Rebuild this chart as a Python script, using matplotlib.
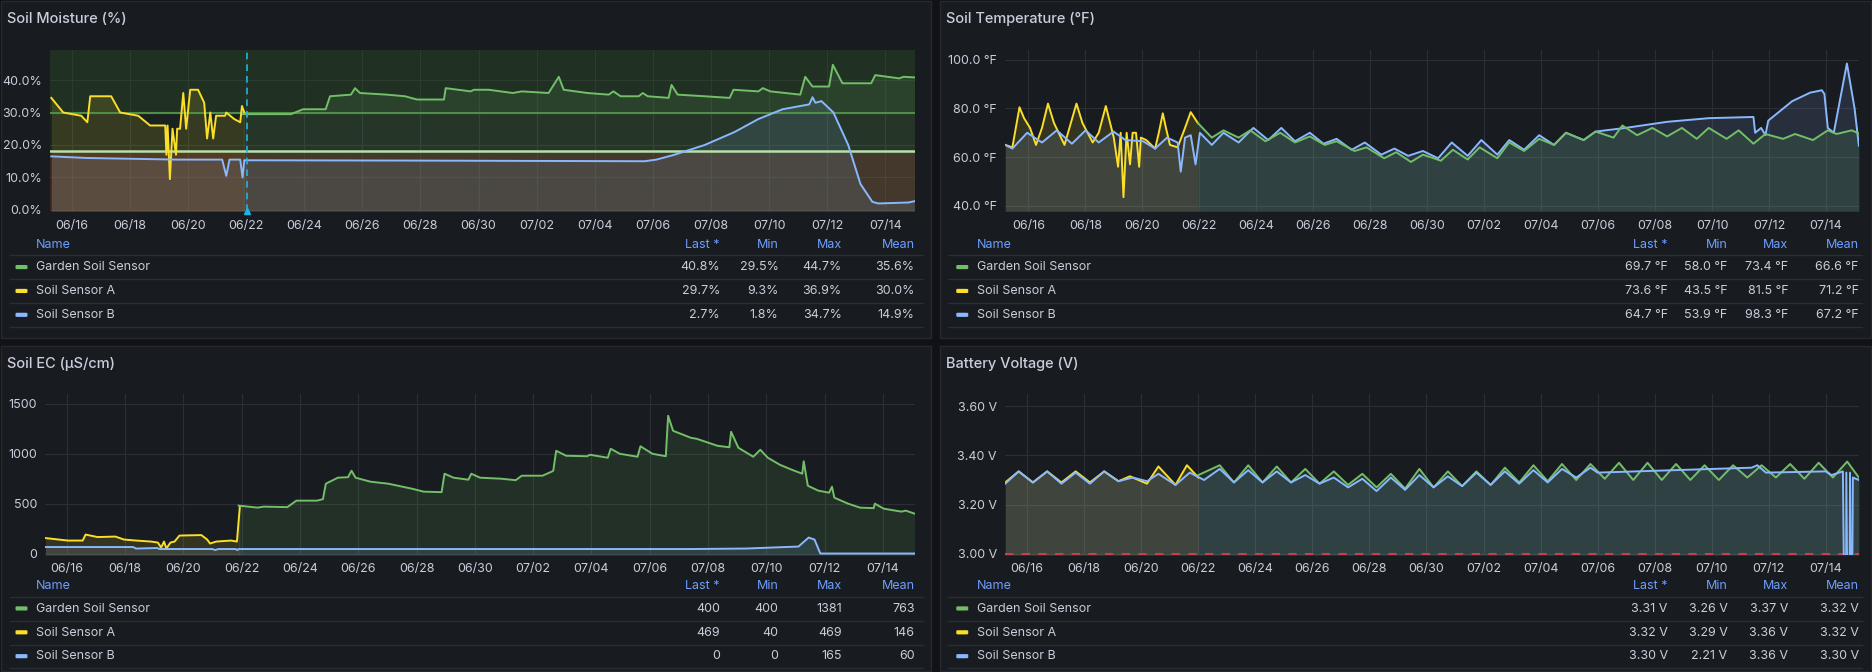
import matplotlib
matplotlib.use("Agg")
import matplotlib.pyplot as plt
from matplotlib.patches import Rectangle, FancyBboxPatch
from matplotlib.lines import Line2D
import numpy as np

plt.rcParams['font.family'] = ['Inter', 'DejaVu Sans']

GREEN, YELLOW, BLUE = '#73bf69', '#fade2a', '#8ab8ff'
PAGE, PANEL, GRID, TEXT, HEAD = '#111217', '#181b1f', '#2b2e34', '#ccccdc', '#6e9fff'

tick_days = [1, 3, 5, 7, 9, 11, 13, 15, 17, 19, 21, 23, 25, 27, 29]
tick_labels = ['06/16', '06/18', '06/20', '06/22', '06/24', '06/26', '06/28', '06/30',
               '07/02', '07/04', '07/06', '07/08', '07/10', '07/12', '07/14']
names = ['Garden Soil Sensor', 'Soil Sensor A', 'Soil Sensor B']
cols = ['Last *', 'Min', 'Max', 'Mean']

# ---------------- Soil moisture (%) ----------------
m_green_t = [6.9, 8.55, 8.96, 9.74, 9.89, 10.61, 10.75, 10.92, 11.85, 12.47, 12.88, 13.81, 13.87, 14.73, 14.84,
             15.35, 16.18, 16.49, 17.41, 17.76, 17.93, 18.75, 19.48, 19.64, 19.89, 20.51, 20.65, 20.82, 21.54,
             21.64, 21.85, 22.78, 23.64, 23.77, 24.63, 24.78, 25.04, 26.07, 26.24, 26.49, 27.06, 27.19, 27.52,
             28.51, 28.65, 29.48, 29.62, 30.0]
m_green_v = [29.5, 29.5, 31, 31, 35, 35.5, 37.5, 36, 35.5, 35, 34, 34, 37.5, 36.5, 37, 37, 36, 36.5, 36, 41, 37,
             36, 35.5, 36.5, 35, 35, 36, 35, 34.5, 38.5, 35.5, 35, 34.5, 37, 36.5, 37.5, 36.5, 35.5, 41, 38, 38,
             44.7, 39, 39, 41.5, 40.5, 41, 40.8]
m_yel_t = [0.3, 0.71, 1.33, 1.54, 1.64, 2.36, 2.67, 3.29, 3.7, 4.22, 4.26, 4.3, 4.38, 4.47, 4.59, 4.63, 4.73,
           4.84, 4.94, 5.08, 5.35, 5.56, 5.66, 5.77, 5.87, 5.97, 6.28, 6.32, 6.59, 6.8, 6.86, 6.94]
m_yel_v = [34.5, 30, 29, 27, 35, 35, 30, 29, 26, 26, 17, 26, 9.5, 25, 17, 25, 25, 36, 25, 37, 37, 33, 22, 30, 22,
           29, 29, 30, 28, 27, 32, 30]
m_blue_t = [0.3, 1.54, 2.78, 4.63, 6.18, 6.32, 6.43, 6.8, 6.88, 6.94, 12.88, 20.71, 21.12, 21.74, 22.78, 23.81,
            24.63, 25.46, 26.38, 26.49, 26.59, 26.8, 27.21, 27.72, 28.14, 28.55, 28.76, 29.79, 30.0]
m_blue_v = [16.5, 16, 15.8, 15.5, 15.5, 10.5, 15.5, 15.5, 10, 15.3, 15.2, 15, 15.5, 17, 20, 24, 28, 31, 32.5, 34.7,
            33, 33.5, 30, 20, 8, 2.5, 2, 2.3, 2.7]
m_table = [['40.8%', '29.5%', '44.7%', '35.6%'], ['29.7%', '9.3%', '36.9%', '30.0%'], ['2.7%', '1.8%', '34.7%', '14.9%']]

# ---------------- Soil temperature (°F) ----------------
t_yel_t = [0.19, 0.44, 0.69, 0.85, 1.06, 1.27, 1.48, 1.69, 1.9, 2.27, 2.69, 2.9, 3.26, 3.47, 3.72, 4.0, 4.15, 4.24,
           4.34, 4.45, 4.57, 4.66, 4.78, 4.89, 4.95, 5.14, 5.45, 5.58, 5.72, 5.83, 5.97, 6.24, 6.5, 6.7, 6.95]
t_yel_v = [65, 64, 80.5, 76, 72, 65, 72, 82, 74, 65, 82, 74, 66, 70, 81, 68, 56, 70, 43.5, 70, 57, 70, 70, 56, 68,
           67, 63.5, 70, 78, 72, 65, 64, 72, 78.5, 74]
t_blue_t = [0.19, 0.44, 0.96, 1.48, 2.0, 2.53, 3.01, 3.47, 3.99, 4.41, 5.03, 5.45, 5.87, 6.24, 6.35, 6.5, 6.7, 6.87,
            7.02, 7.44, 7.85, 8.38, 8.9, 9.42, 9.88, 10.36, 10.88, 11.36, 11.82, 12.35, 12.81, 13.39, 13.85, 14.33,
            14.85, 15.38, 15.86, 16.42, 16.9, 17.46, 17.88, 18.4, 18.93, 19.45, 19.87, 20.49, 20.91, 21.96, 23.42,
            24.88, 26.45, 26.51, 26.72, 26.87, 26.97, 27.81, 28.44, 28.85, 28.94, 29.06, 29.27, 29.73, 30.0, 30.15]
t_blue_v = [65, 63.5, 70, 66, 71, 65.5, 71, 66, 70.5, 67, 66.5, 63.5, 68, 66, 54, 68, 69, 57, 70, 65, 70, 66, 72, 67,
            72, 66.5, 70, 65.5, 67.5, 63, 66, 61, 63.5, 60.5, 62.5, 59.5, 66, 60.5, 67, 61, 67, 63, 69, 65, 70, 67,
            70.5, 72, 74.5, 76, 76.5, 70, 72, 69, 75, 83, 86.5, 87.5, 86, 72, 70, 98.5, 80, 64.7]
t_green_t = [6.95, 7.44, 7.85, 8.38, 8.79, 9.32, 9.84, 10.36, 10.88, 11.4, 11.82, 12.45, 12.87, 13.49, 13.91, 14.43,
             14.85, 15.48, 15.9, 16.42, 16.84, 17.46, 17.88, 18.4, 18.93, 19.45, 19.87, 20.49, 20.91, 21.54, 21.85,
             22.37, 22.9, 23.42, 23.94, 24.46, 24.88, 25.51, 25.93, 26.45, 26.87, 27.49, 27.91, 28.54, 29.06, 29.37,
             29.9, 30.15]
t_green_v = [74, 68, 71, 68, 71, 66.5, 70, 66, 68.5, 65, 66.5, 62.5, 64, 59.5, 62, 58, 61, 58.5, 63, 59, 64, 59.5, 66,
             62.5, 67.5, 65, 70, 67, 70.5, 68, 73, 69, 72, 68.5, 72, 67.5, 72, 67.5, 71, 65.5, 69.5, 67.5, 69.5, 67,
             71, 69.5, 71, 69.7]
t_table = [['69.7 °F', '58.0 °F', '73.4 °F', '66.6 °F'], ['73.6 °F', '43.5 °F', '81.5 °F', '71.2 °F'],
           ['64.7 °F', '53.9 °F', '98.3 °F', '67.2 °F']]

# ---------------- Soil EC (µS/cm) ----------------
e_green_t = [6.9, 7.55, 7.76, 8.57, 8.88, 9.59, 9.79, 9.89, 10.3, 10.65, 10.77, 10.91, 11.42, 12.03, 12.84, 13.25,
             13.86, 13.96, 14.27, 14.78, 14.88, 15.18, 15.9, 16.4, 16.61, 17.32, 17.63, 17.69, 17.79, 18.13, 18.85,
             18.95, 19.56, 19.66, 19.97, 20.58, 20.68, 21.09, 21.55, 21.63, 21.8, 22.41, 22.61, 23.32, 23.73, 23.79,
             24.04, 24.55, 24.79, 25.05, 25.46, 25.87, 26.23, 26.28, 26.42, 26.78, 27.15, 27.25, 27.33, 27.8, 28.21,
             28.68, 28.72, 29.02, 29.63, 29.78, 30.08]
e_green_v = [480, 460, 470, 465, 530, 530, 545, 700, 760, 765, 830, 760, 720, 700, 650, 620, 615, 800, 760, 740, 800,
             760, 750, 735, 780, 780, 820, 830, 1030, 980, 975, 990, 960, 1050, 1000, 970, 1075, 1000, 975, 1381,
             1230, 1160, 1150, 1080, 1065, 1220, 1060, 970, 1040, 960, 890, 840, 800, 925, 680, 630, 610, 670, 560,
             500, 460, 455, 500, 450, 420, 430, 400]
e_yel_t = [0.27, 1.04, 1.55, 1.65, 2.06, 2.67, 2.97, 3.38, 3.89, 4.13, 4.24, 4.34, 4.42, 4.56, 4.7, 4.87, 5.62,
           5.82, 5.92, 6.13, 6.64, 6.84, 6.94]
e_yel_v = [155, 130, 130, 190, 165, 170, 140, 130, 120, 110, 60, 120, 50, 110, 120, 180, 185, 140, 100, 120, 130,
           120, 469]
e_blue_t = [0.27, 3.28, 3.38, 4.1, 4.2, 6.0, 6.1, 6.2, 6.8, 6.85, 6.9, 22.4, 24.3, 26.1, 26.45, 26.65, 26.85, 30.08]
e_blue_v = [65, 65, 50, 55, 45, 45, 35, 45, 45, 35, 45, 45, 50, 70, 160, 140, 0, 0]
e_table = [['400', '400', '1381', '763'], ['469', '40', '469', '146'], ['0', '0', '165', '60']]

# ---------------- Battery voltage (V) ----------------
b_yel_t = [0.23, 0.7, 1.2, 1.7, 2.2, 2.7, 3.2, 3.7, 4.2, 4.6, 5.2, 5.6, 6.2, 6.6, 7.0]
b_yel_v = [3.29, 3.335, 3.29, 3.335, 3.29, 3.335, 3.29, 3.335, 3.295, 3.315, 3.285, 3.355, 3.28, 3.36, 3.31]
b_blue_t = [0.23, 0.7, 1.2, 1.7, 2.2, 2.7, 3.2, 3.7, 4.2, 4.7, 5.2, 5.6, 6.2, 6.7, 7.2, 7.75, 8.25, 8.75, 9.25,
            9.75, 10.25, 10.75, 11.25, 11.75, 12.25, 12.75, 13.25, 13.75, 14.25, 14.75, 15.25, 15.75, 16.25, 16.75,
            17.25, 17.75, 18.25, 18.75, 19.25, 19.75, 20.25, 20.75, 21.0, 26.4, 26.6, 26.9, 29.0, 29.2, 29.6, 29.7,
            29.72, 29.8, 29.85, 29.9, 29.95, 30.16]
b_blue_v = [3.285, 3.335, 3.29, 3.335, 3.285, 3.33, 3.285, 3.335, 3.295, 3.31, 3.295, 3.325, 3.28, 3.33, 3.30,
            3.345, 3.29, 3.34, 3.29, 3.335, 3.29, 3.32, 3.285, 3.31, 3.27, 3.305, 3.255, 3.31, 3.26, 3.32, 3.27,
            3.315, 3.275, 3.33, 3.28, 3.335, 3.285, 3.34, 3.29, 3.345, 3.31, 3.35, 3.33, 3.35, 3.36, 3.33, 3.335,
            3.32, 3.335, 2.21, 3.33, 2.21, 3.33, 2.4, 3.31, 3.30]
b_green_peaks = [3.36, 3.36, 3.355, 3.345, 3.335, 3.325, 3.325, 3.345, 3.335, 3.335, 3.35, 3.36, 3.365, 3.365, 3.37,
                 3.37, 3.365, 3.36, 3.36, 3.36, 3.365, 3.37, 3.375]
b_green_troughs = [3.29, 3.29, 3.29, 3.285, 3.28, 3.27, 3.265, 3.27, 3.275, 3.28, 3.29, 3.295, 3.30, 3.305, 3.30,
                   3.30, 3.30, 3.30, 3.31, 3.31, 3.305, 3.31]
b_green_start, b_green_end = 3.32, 3.31
b_table = [['3.31 V', '3.26 V', '3.37 V', '3.32 V'], ['3.32 V', '3.29 V', '3.36 V', '3.32 V'],
           ['3.30 V', '2.21 V', '3.36 V', '3.30 V']]

# build green battery series (peaks at d+0.75, troughs at d+0.25)
b_green_t, b_green_v = [7.0], [b_green_start]
for i, p in enumerate(b_green_peaks):
    b_green_t.append(7 + i + 0.75); b_green_v.append(p)
    if i < len(b_green_troughs):
        b_green_t.append(8 + i + 0.25); b_green_v.append(b_green_troughs[i])
b_green_t.append(30.16); b_green_v.append(b_green_end)

# ---------------- drawing ----------------
W, H = 1568.0, 563.0
fig = plt.figure(figsize=(18.72, 6.72), dpi=100, facecolor=PAGE)

def fx(x): return x / W
def fy(y): return 1 - y / H

def panel(x0, y0, x1, y1, title):
    fig.patches.append(Rectangle((fx(x0), fy(y1)), fx(x1 - x0), (y1 - y0) / H, transform=fig.transFigure,
                                 facecolor=PANEL, edgecolor='#25282e', lw=1, zorder=-10))
    fig.text(fx(x0 + 5), fy(y0 + 15), title, color=TEXT, fontsize=10.5, fontweight='medium', va='center')

def make_ax(x0, y0, x1, y1, xlim, ylim, yticks, yfmt):
    ax = fig.add_axes([fx(x0), fy(y1), fx(x1 - x0), (y1 - y0) / H])
    ax.set_facecolor(PANEL)
    ax.set_xlim(*xlim); ax.set_ylim(*ylim)
    ax.set_xticks(tick_days); ax.set_xticklabels(tick_labels)
    ax.set_yticks(yticks); ax.set_yticklabels([yfmt(v) for v in yticks])
    ax.tick_params(colors=TEXT, labelsize=9, length=0, pad=6)
    for s in ax.spines.values(): s.set_visible(False)
    ax.grid(True, color=GRID, lw=0.8)
    ax.set_axisbelow(True)
    return ax

def series(ax, t, v, c, base):
    ax.fill_between(t, v, base, color=c, alpha=0.13, lw=0)
    ax.plot(t, v, color=c, lw=1.4)

def table(x_name, x_cols, y_head, rows, x0, x1):
    fig.text(fx(x_name), fy(y_head), 'Name', color=HEAD, fontsize=9, va='center')
    for xc, c in zip(x_cols, cols):
        fig.text(fx(xc), fy(y_head), c, color=HEAD, fontsize=9, va='center', ha='right')
    for i, (n, col, vals) in enumerate(zip(names, [GREEN, YELLOW, BLUE], rows)):
        yl = y_head + 9 + 20 * i
        fig.add_artist(Line2D([fx(x0), fx(x1)], [fy(yl), fy(yl)], color='#2a2d33', lw=1))
        yr = yl + 10
        fig.patches.append(FancyBboxPatch((fx(x_name - 17), fy(yr) - 1.5 / H), 10 / W, 3.5 / H,
                                          boxstyle='round,pad=0,rounding_size=0.001', transform=fig.transFigure,
                                          facecolor=col, edgecolor='none'))
        fig.text(fx(x_name), fy(yr), n, color=TEXT, fontsize=9, va='center')
        for xc, v in zip(x_cols, vals):
            fig.text(fx(xc), fy(yr), v, color=TEXT, fontsize=9, va='center', ha='right')
    yl = y_head + 9 + 60
    fig.add_artist(Line2D([fx(x0), fx(x1)], [fy(yl), fy(yl)], color='#2a2d33', lw=1))

panel(1, 1, 780, 283, 'Soil Moisture (%)')
panel(787, 1, 1567, 283, 'Soil Temperature (°F)')
panel(1, 290, 780, 562, 'Soil EC (µS/cm)')
panel(787, 290, 1567, 562, 'Battery Voltage (V)')

# moisture
ax = make_ax(42, 42, 766, 177, (0.26, 30.0), (-0.4, 49.2), [0, 10, 20, 30, 40], lambda v: f'{v:.1f}%')
ax.axhspan(30, 49.2, color='#2f5a2a', alpha=0.35, lw=0)
ax.axhspan(18, 30, color='#2f5a2a', alpha=0.12, lw=0)
ax.axhspan(-0.4, 18, color='#8a3a2a', alpha=0.32, lw=0)
ax.axhline(30, color='#4f8f45', lw=1.5)
ax.axhline(18, color='#b7e0aa', lw=1.8)
series(ax, m_yel_t, m_yel_v, YELLOW, -0.4)
series(ax, m_blue_t, m_blue_v, BLUE, -0.4)
series(ax, m_green_t, m_green_v, GREEN, -0.4)
ax.axvline(7.05, color='#1fb4e6', lw=1.2, ls=(0, (4, 3)))
ax.plot([7.05], [-0.4], marker='^', color='#1fb4e6', ms=4, clip_on=False)
table(30, [603, 652, 705, 766], 205, m_table, 8, 773)

# temperature
ax = make_ax(842, 42, 1557, 177, (0.19, 30.15), (37.7, 104), [40, 60, 80, 100], lambda v: f'{v:.1f} °F')
series(ax, t_yel_t, t_yel_v, YELLOW, 37.7)
series(ax, t_blue_t, t_blue_v, BLUE, 37.7)
series(ax, t_green_t, t_green_v, GREEN, 37.7)
table(818, [1397, 1447, 1498, 1557], 205, t_table, 794, 1560)

# EC
ax = make_ax(38, 330, 766, 465, (0.27, 30.08), (-15, 1600), [0, 500, 1000, 1500], lambda v: f'{v:d}')
series(ax, e_yel_t, e_yel_v, YELLOW, -15)
series(ax, e_blue_t, e_blue_v, BLUE, -15)
series(ax, e_green_t, e_green_v, GREEN, -15)
table(30, [603, 652, 705, 766], 491, e_table, 8, 773)

# battery
ax = make_ax(842, 330, 1557, 465, (0.23, 30.16), (2.995, 3.65), [3.0, 3.2, 3.4, 3.6], lambda v: f'{v:.2f} V')
ax.axhline(3.0, color='#c4424f', lw=1.5, ls=(0, (4, 4)))
series(ax, b_yel_t, b_yel_v, YELLOW, 2.995)
series(ax, b_green_t, b_green_v, GREEN, 2.995)
series(ax, b_blue_t, b_blue_v, BLUE, 2.995)
table(818, [1397, 1447, 1498, 1557], 491, b_table, 794, 1560)

fig.savefig('out.png', dpi=100, facecolor=PAGE)
